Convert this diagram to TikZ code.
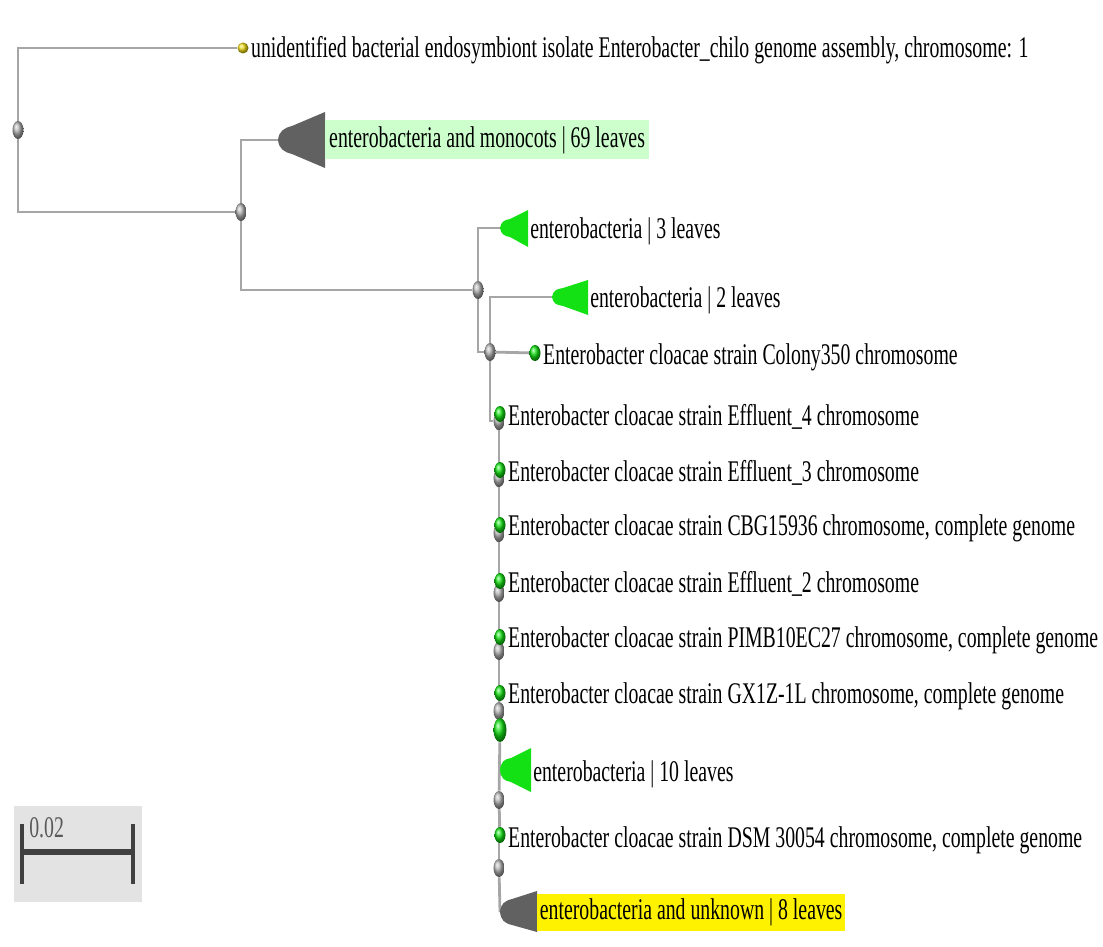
\documentclass[tikz,border=0pt]{standalone}
\usepackage{fontspec}
\setmainfont{Liberation Serif}
\usetikzlibrary{positioning,shapes.geometric,backgrounds}
\definecolor{leafgreen}{RGB}{20,225,20}

\begin{document}
\begin{tikzpicture}[x=0.5pt,y=-0.5pt,
		inner/.style={ellipse,ball color=gray!60,inner sep=0pt,minimum width=5.5pt,minimum height=9pt},
		leaf/.style={ellipse,ball color=leafgreen,inner sep=0pt,minimum width=5.5pt,minimum height=8pt},
		gold/.style={circle,ball color=yellow!70!brown,inner sep=0pt,minimum size=5.5pt},
		branch/.style={draw=gray!70,line width=1.4pt},
		txt/.style={font=\fontsize{15}{18}\selectfont,xscale=0.66,inner sep=0pt,anchor=west},
		greenclade/.style={fill=leafgreen},
		darkclade/.style={fill=black!62}]
	\useasboundingbox (0,0) rectangle (1103,947);

	% internal nodes
	\node[inner]	(n0)	at (18,130)		{};
	\node[inner]	(n1)	at (241,212)	{};
	\node[inner]	(n2)	at (478,290)	{};
	\node[inner]	(n3)	at (490,352)	{};
	\foreach \i/\y in {4/421,5/478,6/533,7/593,8/651,9/711,10/800,11/868}
		\node[inner] (n\i) at (499,\y) {};
	\node[leaf,minimum width=6.5pt,minimum height=12pt]	(ng)	at (500,730)	{};

	% leaves
	\node[gold]		(lU)	at (243,48)		{};
	\node[leaf]		(lC)	at (535,353)	{};
	\foreach \i/\y in {4/414,5/470,6/525,7/581,8/637,9/693,10/835}
		\node[leaf] (l\i) at (500,\y) {};

	% collapsed clades
	\coordinate (c69)	at (278,140);
	\coordinate (c3)	at (500,228);
	\coordinate (c2)	at (552,297);
	\coordinate (c10)	at (500,770);
	\coordinate (c8)	at (500,912);
	\fill[darkclade] (c69) .. controls (279,131) and (284,128) .. (292,126) -- (325,112) -- (325,168) -- (292,154) .. controls (284,152) and (279,149) .. (c69) -- cycle;
	\fill[greenclade] (c3) .. controls (501,222) and (504,220) .. (510,219) -- (528,210) -- (528,247) -- (510,237) .. controls (504,236) and (501,234) .. (c3) -- cycle;
	\fill[greenclade] (c2) .. controls (553,291) and (556,289) .. (563,288) -- (588,280) -- (588,315) -- (563,306) .. controls (556,305) and (553,303) .. (c2) -- cycle;
	\fill[greenclade] (c10) .. controls (501,762) and (504,759) .. (511,758) -- (531,748) -- (531,792) -- (511,782) .. controls (504,781) and (501,778) .. (c10) -- cycle;
	\fill[darkclade] (c8) .. controls (501,904) and (504,901) .. (512,899) -- (537,891) -- (537,932) -- (512,925) .. controls (504,923) and (501,920) .. (c8) -- cycle;

	% labels
	\node[txt,right=1pt of lU,yshift=-1pt]	(tU)	{unidentified bacterial endosymbiont isolate Enterobacter\_chilo genome assembly, chromosome: 1};
	\node[txt,fill=green!20,inner xsep=3pt,minimum height=19.5pt]	(t69)	at (325,140)	{enterobacteria and monocots | 69 leaves};
	\node[txt]	(t3)	at (530,231)	{enterobacteria | 3 leaves};
	\node[txt]	(t2)	at (590,300)	{enterobacteria | 2 leaves};
	\node[txt,right=1pt of lC,yshift=-2pt]	(tC)	{Enterobacter cloacae strain Colony350 chromosome};
	\node[txt,right=1pt of l4,yshift=-1.5pt]	(t4)	{Enterobacter cloacae strain Effluent\_4 chromosome};
	\node[txt,right=1pt of l5,yshift=-1.5pt]	(t5)	{Enterobacter cloacae strain Effluent\_3 chromosome};
	\node[txt,right=1pt of l6,yshift=-1.5pt]	(t6)	{Enterobacter cloacae strain CBG15936 chromosome, complete genome};
	\node[txt,right=1pt of l7,yshift=-1.5pt]	(t7)	{Enterobacter cloacae strain Effluent\_2 chromosome};
	\node[txt,right=1pt of l8,yshift=-1.5pt]	(t8)	{Enterobacter cloacae strain PIMB10EC27 chromosome, complete genome};
	\node[txt,right=1pt of l9,yshift=-1.5pt]	(t9)	{Enterobacter cloacae strain GX1Z-1L chromosome, complete genome};
	\node[txt]	(t10c)	at (533,774)	{enterobacteria | 10 leaves};
	\node[txt,right=1pt of l10,yshift=-2.5pt]	(t10)	{Enterobacter cloacae strain DSM 30054 chromosome, complete genome};
	\node[txt,fill=yellow,inner xsep=2pt,minimum height=18.5pt]	(t8c)	at (537,912)	{enterobacteria and unknown | 8 leaves};

	% scale bar
	\fill[gray!22] (14,806) rectangle (142,902);
	\draw[black!75,line width=3pt] (22,852) -- (133,852);
	\draw[black!75,line width=2pt] (22,824) -- (22,884);
	\draw[black!75,line width=2pt] (133,824) -- (133,884);
	\node[txt,text=black!65]	(sc)	at (29,828)	{0.02};

	\begin{scope}[on background layer]
		\draw[branch] (n0) |- (lU);
		\draw[branch] (n0) |- (n1);
		\draw[branch] (n1) |- (c69);
		\draw[branch] (n1) |- (n2);
		\draw[branch] (n2) |- (c3);
		\draw[branch] (n2) |- (n3);
		\draw[branch] (n3) |- (c2);
		\draw[branch] (n3) -- (lC);
		\draw[branch] (n3) |- (n4);
		\foreach \a/\b in {4/5,5/6,6/7,7/8,8/9,9/g,g/10,10/11}
			\draw[branch] (n\a) -- (n\b);
		\draw[branch] (n11) -- (c8);
		\foreach \i in {4,5,6,7,8,9,10}
			\draw[branch] (n\i) -- (l\i);
	\end{scope}
\end{tikzpicture}
\end{document}
